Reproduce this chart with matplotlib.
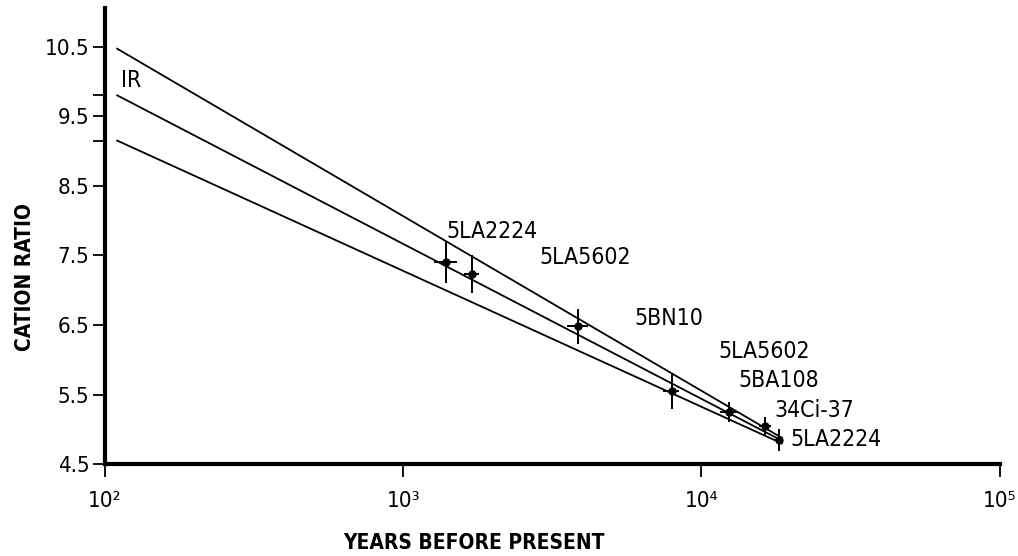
import matplotlib
matplotlib.use("Agg")
import matplotlib.pyplot as plt
from matplotlib.ticker import FixedLocator, NullLocator

plt.rcParams['font.family'] = ['DejaVu Sans']
plt.rcParams['font.stretch'] = 'condensed'

# data points (years BP, cation ratio) with error bars
years = [1390, 1700, 3850, 7940, 12400, 16400, 18200]
ratio = [7.41, 7.23, 6.48, 5.55, 5.25, 5.05, 4.85]
yerr = [0.30, 0.27, 0.25, 0.25, 0.15, 0.13, 0.16]
xerr = [120, 95, 310, 500, 890, 770, 630]

# regression line and its envelope (start / end)
line_x = [110, 18600]
line_upper = [10.47, 4.88]
line_mid = [9.80, 4.84]
line_lower = [9.15, 4.80]

labels = ["IR", "5LA2224", "5LA5602", "5BN10", "5LA5602", "5BA108", "34Ci-37", "5LA2224"]
label_x = [113, 1400, 2870, 5950, 11400, 13300, 17500, 19900]
label_y = [10.01, 7.84, 7.47, 6.60, 6.12, 5.70, 5.27, 4.86]

xticks = [1e2, 1e3, 1e4, 1e5]
xtick_labels = ['10²', '10³', '10⁴', '10⁵']
yticks = [4.5, 5.5, 6.5, 7.5, 8.5, 9.5, 10.5]

fig = plt.figure(figsize=(10.18, 5.56), dpi=100)
ax = fig.add_axes([0.103, 0.165, 0.879, 0.82])

for ys in (line_upper, line_mid, line_lower):
    ax.plot(line_x, ys, color='black', lw=1.3)

ax.errorbar(years, ratio, yerr=yerr, xerr=xerr, fmt='o', color='black',
            ms=5, elinewidth=1.4, capsize=0)

for t, x, y in zip(labels, label_x, label_y):
    ax.text(x, y, t, fontsize=16.5, va='center', ha='left')

ax.set_xscale('log')
ax.set_xlim(100, 1e5)
ax.set_ylim(4.5, 11.05)
ax.set_xticks(xticks)
ax.set_xticklabels(xtick_labels)
ax.xaxis.set_minor_locator(NullLocator())
ax.set_yticks(yticks)
ax.set_yticklabels([str(v) for v in yticks])
ax.yaxis.set_minor_locator(FixedLocator([line_mid[0], line_lower[0]]))

ax.spines['top'].set_visible(False)
ax.spines['right'].set_visible(False)
ax.spines['left'].set_linewidth(3)
ax.spines['bottom'].set_linewidth(3)
ax.tick_params(axis='y', which='major', length=9, width=1.3, labelsize=16, pad=2)
ax.tick_params(axis='y', which='minor', length=9, width=1.3)
ax.tick_params(axis='x', which='major', length=9, width=1.3, labelsize=16, pad=10)

ax.set_xlabel("YEARS BEFORE PRESENT", fontsize=15, fontweight='bold')
ax.set_ylabel("CATION RATIO", fontsize=15, fontweight='bold')
ax.xaxis.set_label_coords(0.413, -0.15)
ax.yaxis.set_label_coords(-0.078, 0.41)

fig.savefig("out.png", dpi=100)
